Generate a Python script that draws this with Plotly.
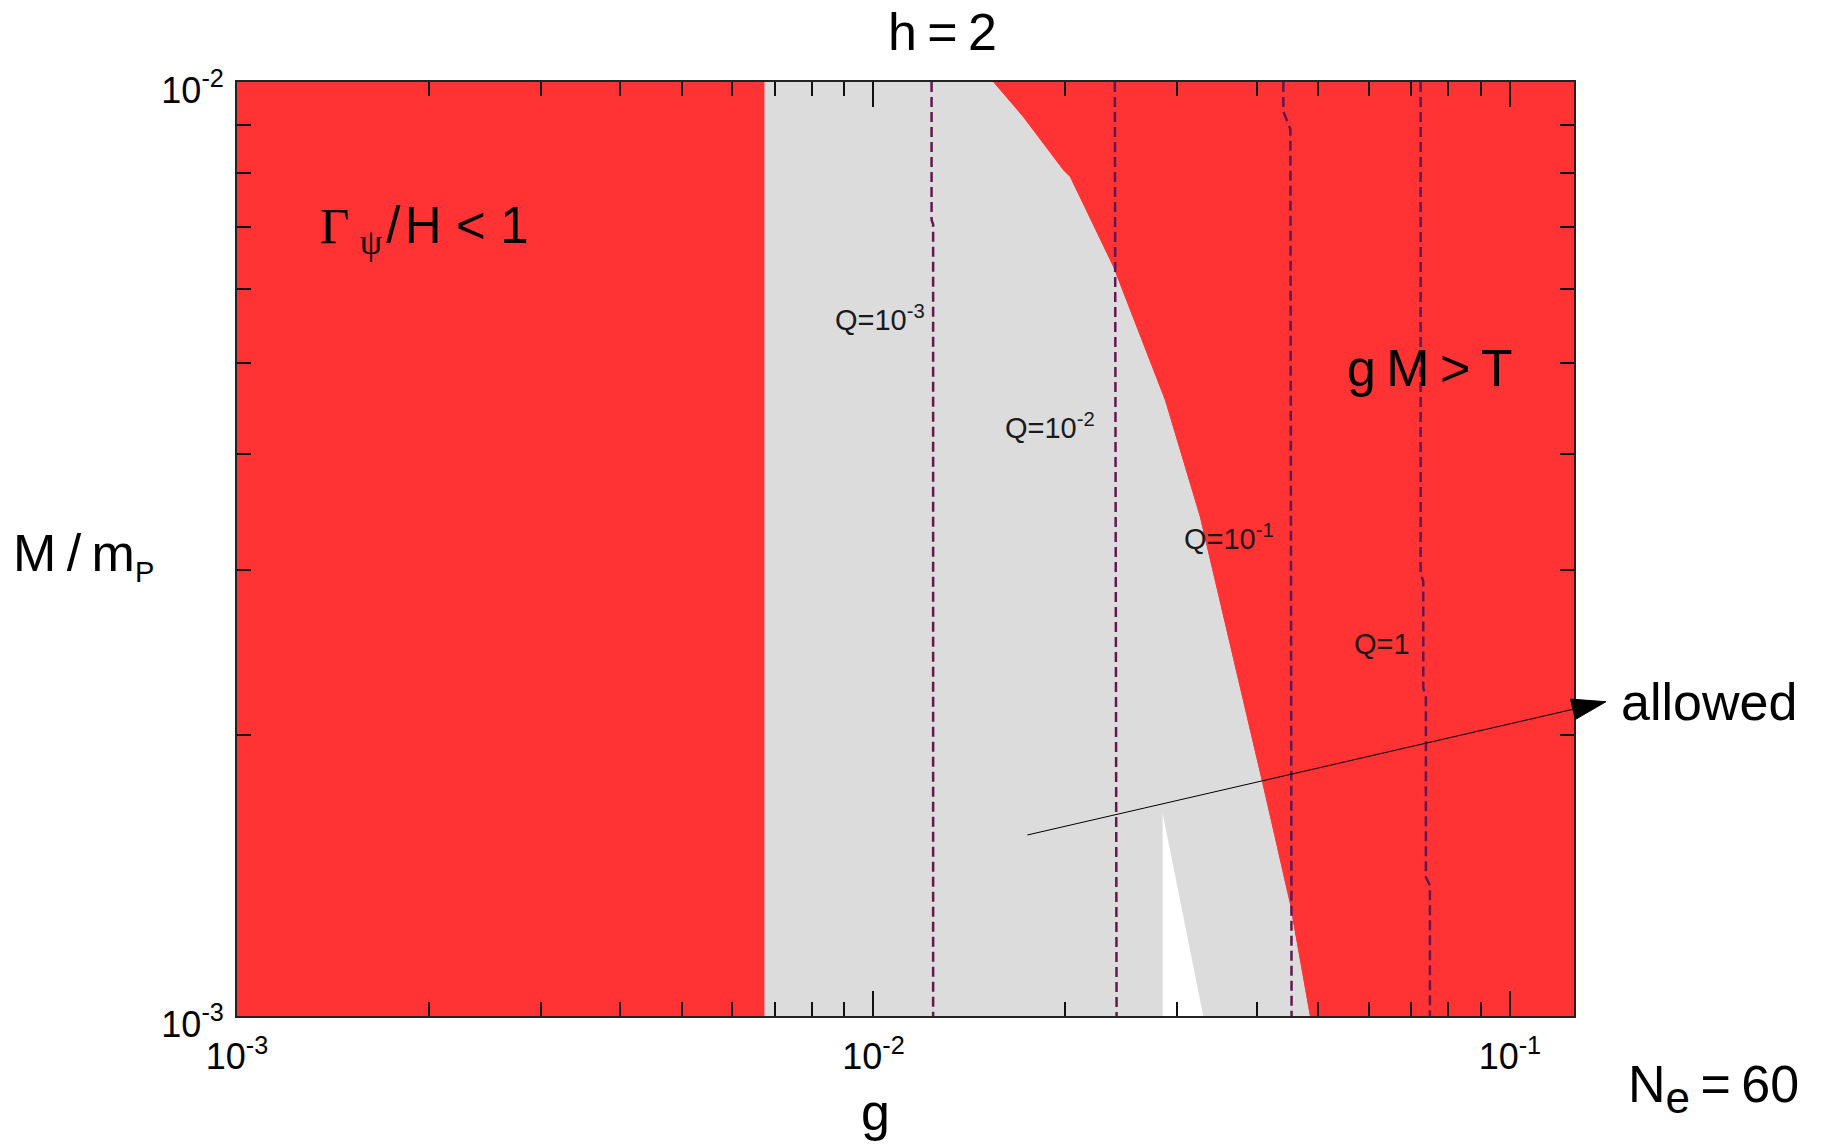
import math
import plotly.graph_objects as go

# Axis extents: coupling g (x) and M/m_P (y)
G_MIN, G_MAX = 1e-3, 0.1261
M_MIN, M_MAX = 1e-3, 1e-2

# Gamma_psi/H < 1 excludes every coupling below this value
g_decay_limit = 0.00674

# gM > T exclusion boundary, running from the top edge to the bottom edge
boundary_g = [0.01543, 0.01718, 0.01987, 0.02036, 0.02381, 0.02651,
              0.02871, 0.03258, 0.03811, 0.04074, 0.04512, 0.04851]
boundary_M = [0.01, 0.009181, 0.008049, 0.007919, 0.006342, 0.005254,
              0.004566, 0.003424, 0.002180, 0.001789, 0.001320, 0.001]

# Small allowed wedge near the bottom edge
wedge_g = [0.02847, 0.02847, 0.03297]
wedge_M = [0.001648, 0.001, 0.001]

# Constant-Q contours
q_text = ["Q=10<sup>-3</sup>", "Q=10<sup>-2</sup>", "Q=10<sup>-1</sup>", "Q=1"]
q_g = [
    [0.01234, 0.01234, 0.01241, 0.01241],
    [0.02395, 0.02410],
    [0.04406, 0.04406, 0.04520, 0.04539],
    [0.07240, 0.07240, 0.07309, 0.07309, 0.07379, 0.07379, 0.07487, 0.07487],
]
q_M = [
    [0.01, 0.00712, 0.00704, 0.001],
    [0.01, 0.001],
    [0.01, 0.0093, 0.0089, 0.001],
    [0.01, 0.00298, 0.00292, 0.002245, 0.00220, 0.001408, 0.00138, 0.001],
]
q_label_g = [0.01024, 0.01894, 0.03619, 0.06292]
q_label_M = [0.005590, 0.004282, 0.003256, 0.002502]

# Tick positions and labels
x_major = [1e-3, 1e-2, 1e-1]
x_major_text = ["10<sup>-3</sup>", "10<sup>-2</sup>", "10<sup>-1</sup>"]
x_minor = [k * 1e-3 for k in range(2, 10)] + [k * 1e-2 for k in range(2, 10)]
y_major = [1e-3, 1e-2]
y_major_text = ["10<sup>-3</sup>", "10<sup>-2</sup>"]
y_minor = [k * 1e-3 for k in range(2, 10)]

RED = "rgb(255,51,51)"
GREY = "rgb(220,220,220)"
QCOL = "rgb(100,24,82)"
FONT = "Liberation Sans"
SERIF = "Liberation Serif"

W, H = 1823, 1144
ML, MR, MT, MB = 237, 249, 82, 128
PW, PH = W - ML - MR, H - MT - MB

fig = go.Figure()

# excluded: Gamma_psi/H < 1
fig.add_trace(go.Scatter(
    x=[G_MIN, g_decay_limit, g_decay_limit, G_MIN],
    y=[M_MIN, M_MIN, M_MAX, M_MAX],
    fill="toself", fillcolor=RED, mode="lines", line=dict(width=0),
    hoverinfo="skip", showlegend=False))

# region between the two constraints
fig.add_trace(go.Scatter(
    x=[g_decay_limit, g_decay_limit] + boundary_g + [g_decay_limit],
    y=[M_MIN, M_MAX] + boundary_M + [M_MIN],
    fill="toself", fillcolor=GREY, mode="lines", line=dict(width=0),
    hoverinfo="skip", showlegend=False))

# excluded: gM > T
fig.add_trace(go.Scatter(
    x=boundary_g + [G_MAX, G_MAX, boundary_g[0]],
    y=boundary_M + [M_MIN, M_MAX, boundary_M[0]],
    fill="toself", fillcolor=RED, mode="lines", line=dict(width=0),
    hoverinfo="skip", showlegend=False))

# allowed wedge
fig.add_trace(go.Scatter(
    x=wedge_g + [wedge_g[0]], y=wedge_M + [wedge_M[0]],
    fill="toself", fillcolor="white", mode="lines", line=dict(width=0),
    hoverinfo="skip", showlegend=False))

# Q contours
for gx, my in zip(q_g, q_M):
    fig.add_trace(go.Scatter(
        x=gx, y=my, mode="lines",
        line=dict(color=QCOL, width=2.5, dash="10px,5px"),
        hoverinfo="skip", showlegend=False))

annotations = []
for txt, gx, my in zip(q_text, q_label_g, q_label_M):
    annotations.append(dict(
        x=math.log10(gx), y=math.log10(my), xref="x", yref="y",
        text=txt, showarrow=False, xanchor="center", yanchor="middle",
        font=dict(family=FONT, size=29, color="#1a1a1a")))


def paper_x(px):
    return (px - ML) / PW


def paper_y(py):
    return (MT + PH - py) / PH


big = dict(family=FONT, size=52, color="black")
annotations += [
    dict(x=paper_x(942), y=paper_y(32), xref="paper", yref="paper",
         text="h\u2009=\u20092", showarrow=False, xanchor="center",
         yanchor="middle", font=big),
    dict(x=paper_x(875), y=paper_y(1112), xref="paper", yref="paper",
         text="g", showarrow=False, xanchor="center", yanchor="middle",
         font=big),
    dict(x=paper_x(11), y=paper_y(556), xref="paper", yref="paper",
         text="M\u2009/\u2009m<sub><span style=\"font-size:29px\">P</span></sub>",
         showarrow=False, xanchor="left", yanchor="middle", font=big),
    dict(x=paper_x(1626), y=paper_y(1088), xref="paper", yref="paper",
         text="N<sub><span style=\"font-size:44px\">e</span></sub>\u2009=\u200960",
         showarrow=False, xanchor="left", yanchor="middle", font=big),
    dict(x=paper_x(1619), y=paper_y(702), xref="paper", yref="paper",
         text="allowed", showarrow=False, xanchor="left", yanchor="middle",
         font=big),
    dict(x=paper_x(318), y=paper_y(230), xref="paper", yref="paper",
         text="<span style=\"font-family:" + SERIF + "\">\u0393</span>\u2009"
              "<sub><span style=\"font-family:" + SERIF + "\">\u03c8</span></sub>"
              "\u200a/\u200aH\u2009\u200a&lt;\u2009\u200a1",
         showarrow=False, xanchor="left", yanchor="middle",
         font=dict(family=FONT, size=51, color="black")),
    dict(x=paper_x(1345), y=paper_y(368), xref="paper", yref="paper",
         text="g\u2009M\u2009&gt;\u2009T", showarrow=False, xanchor="left",
         yanchor="middle", font=big),
]

# pointer to the allowed band: thin line ending in a filled head
tail = (1027.3, 835.0)
tip = (1606.0, 701.7)
head_len, head_half = 34.0, 10.5
dx, dy = tip[0] - tail[0], tip[1] - tail[1]
norm = math.hypot(dx, dy)
ux, uy = dx / norm, dy / norm
base = (tip[0] - ux * head_len, tip[1] - uy * head_len)
b1 = (base[0] - uy * head_half, base[1] + ux * head_half)
b2 = (base[0] + uy * head_half, base[1] - ux * head_half)

shapes = [
    dict(type="line", xref="paper", yref="paper",
         x0=paper_x(tail[0]), y0=paper_y(tail[1]),
         x1=paper_x(base[0]), y1=paper_y(base[1]),
         line=dict(color="black", width=1)),
    dict(type="path", xref="paper", yref="paper",
         path="M {:.5f} {:.5f} L {:.5f} {:.5f} L {:.5f} {:.5f} Z".format(
             paper_x(tip[0]), paper_y(tip[1]),
             paper_x(b1[0]), paper_y(b1[1]),
             paper_x(b2[0]), paper_y(b2[1])),
         fillcolor="black", line=dict(color="black", width=1)),
]

axis_common = dict(
    type="log", showgrid=False, zeroline=False,
    showline=True, linecolor="#222", linewidth=2, mirror="allticks",
    ticks="inside", tickcolor="#111", tickwidth=2,
    tickfont=dict(family=FONT, size=36, color="black"),
    tickmode="array",
)

fig.update_xaxes(
    **axis_common,
    range=[math.log10(G_MIN), math.log10(G_MAX)],
    tickvals=x_major, ticktext=x_major_text, ticklen=25,
    ticklabelstandoff=8,
    minor=dict(tickmode="array", tickvals=x_minor, ticks="inside",
               ticklen=14, tickwidth=2, tickcolor="#111", showgrid=False),
)
fig.update_yaxes(
    **axis_common,
    range=[math.log10(M_MIN), math.log10(M_MAX)],
    tickvals=y_major, ticktext=y_major_text, ticklen=25,
    ticklabelstandoff=4, ticklabelshift=8,
    minor=dict(tickmode="array", tickvals=y_minor, ticks="inside",
               ticklen=14, tickwidth=2, tickcolor="#111", showgrid=False),
)

fig.update_layout(
    width=W, height=H, autosize=False,
    margin=dict(l=ML, r=MR, t=MT, b=MB, pad=0),
    paper_bgcolor="white", plot_bgcolor=RED,
    font=dict(family=FONT, color="black"),
    showlegend=False,
    annotations=annotations,
    shapes=shapes,
)

fig.write_html("out.html")
